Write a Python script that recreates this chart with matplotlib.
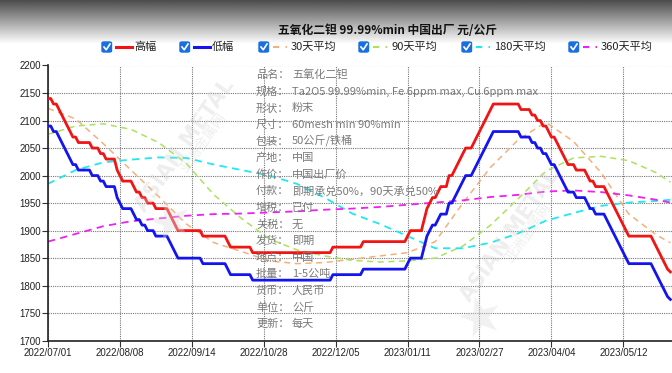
import matplotlib
matplotlib.use("Agg")
import matplotlib.pyplot as plt
from matplotlib.patches import FancyBboxPatch
from matplotlib.lines import Line2D
import numpy as np

# 日线: 每段价格与持续天数
run_days = [2, 2, 1, 1, 1, 1, 1, 2, 5, 3, 2, 4, 1, 1, 4, 1, 2, 2, 3, 5, 1, 1, 1, 9, 9, 1, 8, 29, 11, 16,
            1, 5, 1, 1, 1, 2, 1, 3, 2, 1, 1, 1, 1, 3, 1, 1, 1, 1, 1, 1, 1, 10, 4, 2, 2, 2, 1, 2, 1, 1,
            1, 1, 3, 4, 1, 2, 4, 1, 1, 1, 1, 1, 1, 1, 1, 9, 1, 1, 1, 1, 1, 1, 1]
high_levels = [2140, 2130, 2120, 2110, 2100, 2090, 2080, 2070, 2060, 2050, 2040, 2030, 2010, 2000, 1990,
               1980, 1970, 1960, 1950, 1940, 1930, 1920, 1910, 1900, 1890, 1880, 1870, 1860, 1870, 1880,
               1890, 1900, 1920, 1940, 1950, 1960, 1970, 1980, 2000, 2010, 2020, 2030, 2040, 2050, 2060,
               2070, 2080, 2090, 2100, 2110, 2120, 2130, 2120, 2110, 2100, 2090, 2080, 2070, 2060, 2050,
               2040, 2030, 2020, 2010, 2000, 1990, 1980, 1970, 1960, 1950, 1940, 1930, 1920, 1910, 1900,
               1890, 1880, 1870, 1860, 1850, 1840, 1830, 1825]
low_levels = [2090, 2080, 2070, 2060, 2050, 2040, 2030, 2020, 2010, 2000, 1990, 1980, 1960, 1950, 1940,
              1930, 1920, 1910, 1900, 1890, 1880, 1870, 1860, 1850, 1840, 1830, 1820, 1810, 1820, 1830,
              1840, 1850, 1870, 1890, 1900, 1910, 1920, 1930, 1950, 1960, 1970, 1980, 1990, 2000, 2010,
              2020, 2030, 2040, 2050, 2060, 2070, 2080, 2070, 2060, 2050, 2040, 2030, 2020, 2010, 2000,
              1990, 1980, 1970, 1960, 1950, 1940, 1930, 1920, 1910, 1900, 1890, 1880, 1870, 1860, 1850,
              1840, 1830, 1820, 1810, 1800, 1790, 1780, 1775]

# 均线 (每10个交易日取一个读数)
ma_pos = [0, 10, 20, 30, 40, 50, 60, 70, 80, 90, 100, 110, 120, 130, 140, 150, 160, 170, 180, 190, 200, 210, 220, 225]
ma30 = [2122, 2103, 2058, 2010, 1962, 1912, 1878, 1862, 1845, 1840, 1842, 1848, 1854, 1860, 1880, 1950,
        2015, 2065, 2097, 2062, 2005, 1930, 1892, 1878]
ma90 = [2075, 2090, 2094, 2084, 2060, 2022, 1965, 1922, 1885, 1865, 1854, 1846, 1843, 1845, 1850, 1872,
        1910, 1958, 2008, 2032, 2035, 2027, 2005, 1988]
ma180 = [1985, 2010, 2024, 2029, 2033, 2032, 2020, 2010, 2000, 1985, 1960, 1931, 1912, 1890, 1868, 1868,
         1878, 1895, 1918, 1932, 1945, 1951, 1954, 1956]
ma360 = [1880, 1894, 1908, 1917, 1922, 1927, 1930, 1931, 1933, 1935, 1938, 1940, 1943, 1947, 1951, 1955,
         1961, 1965, 1971, 1973, 1970, 1964, 1956, 1951]

tick_labels = ['2022/07/01', '2022/08/08', '2022/09/14', '2022/10/28', '2022/12/05',
               '2023/01/11', '2023/02/27', '2023/04/04', '2023/05/12']

info_keys = ['品名：', '规格：', '形状：', '尺寸：', '包装：', '产地：', '作价：', '付款：',
             '增税：', '关税：', '发货：', '地点：', '批量：', '货币：', '单位：', '更新：']
info_vals = ['五氧化二钽', 'Ta2O5 99.99%min, Fe 6ppm max, Cu 6ppm max', '粉末', '60mesh min 90%min',
             '50公斤/铁桶', '中国', '中国出厂价', '即期承兑50%，90天承兑50%', '已付', '无', '即期',
             '中国', '1-5公吨', '人民币', '公斤', '每天']

cjk = ['Noto Sans CJK SC', 'DejaVu Sans']
W, H = 672, 373


def fx(x):
    return x / W


def fy(y):
    return 1 - y / H


fig = plt.figure(figsize=(6.72, 3.73), dpi=100)
fig.patch.set_facecolor('white')

# 顶部灰色渐变
bg = fig.add_axes([0, fy(44), 1, 44 / H], zorder=-5)
grad = np.linspace(0.3, 1.0, 100).reshape(-1, 1)
bg.imshow(grad, cmap='gray', vmin=0, vmax=1, aspect='auto')
bg.axis('off')

ax = fig.add_axes([fx(48), fy(340.7), 1 - fx(48), (340.7 - 65.5) / H])

high = np.repeat(high_levels, run_days)
low = np.repeat(low_levels, run_days)
days = np.arange(len(high))

dash = (0, (4, 3))
ax.plot(ma_pos, ma30, color='#f4b07a', lw=1.1, ls=dash, zorder=2)
ax.plot(ma_pos, ma90, color='#a9e35e', lw=1.1, ls=dash, zorder=2)
ax.plot(ma_pos, ma180, color='#1ee8f0', lw=1.3, ls=dash, zorder=2)
ax.plot(ma_pos, ma360, color='#f020f0', lw=1.3, ls=dash, zorder=2)
ax.plot(days, high, color='#f01414', lw=2.0, zorder=3)
ax.plot(days, low, color='#1414f0', lw=2.0, zorder=3)

ax.set_xlim(0, 225.6)
ax.set_ylim(1700, 2200)
ax.set_yticks(np.arange(1700, 2201, 50))
ax.set_xticks(np.arange(0, 26 * len(tick_labels), 26))
ax.set_xticklabels(tick_labels)
for lab in ax.get_xticklabels() + ax.get_yticklabels():
    lab.set_fontfamily('Liberation Sans')
    lab.set_fontsize(7)
    lab.set_color('#222222')
ax.tick_params(axis='both', length=4, width=0.8, pad=1, color='#333333')
ax.grid(True, linestyle=(0, (1, 1)), color='#777777', lw=0.8)
ax.spines['top'].set_visible(False)
ax.spines['right'].set_visible(False)
ax.spines['left'].set_color('#222222')
ax.spines['bottom'].set_color('#222222')
ax.spines['left'].set_linewidth(1.2)
ax.spines['bottom'].set_linewidth(1.2)

# 水印
for (x, y) in [(185, 145), (510, 235)]:
    fig.text(fx(x), fy(y), 'ASIAN METAL', fontsize=15, fontweight='bold', color='#d0d0d0',
             rotation=55, ha='center', va='center', alpha=0.35, zorder=1)
    fig.text(fx(x + 18), fy(y - 2), '亚洲金属网', fontsize=10, color='#d0d0d0', family=cjk,
             rotation=55, ha='center', va='center', alpha=0.35, zorder=1)
for (x, y) in [(170, 222), (480, 318)]:
    fig.text(fx(x), fy(y), '★', fontsize=38, color='#dcdcdc', ha='center', va='center',
             rotation=15, alpha=0.4, zorder=1)

# 产品信息
for i, (k, v) in enumerate(zip(info_keys, info_vals)):
    y = 75 + 16.6 * i
    fig.text(fx(256), fy(y), k, fontsize=8, color='#7a7a7a', family=cjk, va='center', zorder=4)
    fig.text(fx(292), fy(y), v, fontsize=8, color='#7a7a7a', family=cjk, va='center', zorder=4)

# 标题
fig.text(fx(388), fy(30), '五氧化二钽 99.99%min 中国出厂 元/公斤', fontsize=8.5, fontweight='bold',
         family=cjk, ha='center', va='center', color='#111111')

# 图例
legend_items = [('高幅', '#f01414', '-', 102), ('低幅', '#1414f0', '-', 180),
                ('30天平均', '#f4b07a', '--', 259), ('90天平均', '#a9e35e', '--', 359),
                ('180天平均', '#1ee8f0', '--', 462), ('360天平均', '#f020f0', '--', 569)]
ly = 47
for name, color, style, x0 in legend_items:
    box = FancyBboxPatch((fx(x0), fy(ly + 5)), fx(9.5), 10 / H, boxstyle='round,pad=0,rounding_size=0.003',
                         transform=fig.transFigure, facecolor='#1a6fe0', edgecolor='#1a6fe0', zorder=5)
    fig.add_artist(box)
    fig.add_artist(Line2D([fx(x0 + 2), fx(x0 + 4.2), fx(x0 + 8)], [fy(ly), fy(ly + 2.8), fy(ly - 3)],
                          transform=fig.transFigure, color='white', lw=1.2, zorder=6))
    if style == '-':
        fig.add_artist(Line2D([fx(x0 + 14), fx(x0 + 30)], [fy(ly), fy(ly)], transform=fig.transFigure,
                              color=color, lw=2.2))
    else:
        fig.add_artist(Line2D([fx(x0 + 14), fx(x0 + 28)], [fy(ly), fy(ly)], transform=fig.transFigure,
                              color=color, lw=1.5, ls=(0, (3, 3))))
    fig.text(fx(x0 + 32), fy(ly), name, fontsize=8, family=cjk, va='center', color='#222222')

fig.savefig('out.png', dpi=100)
